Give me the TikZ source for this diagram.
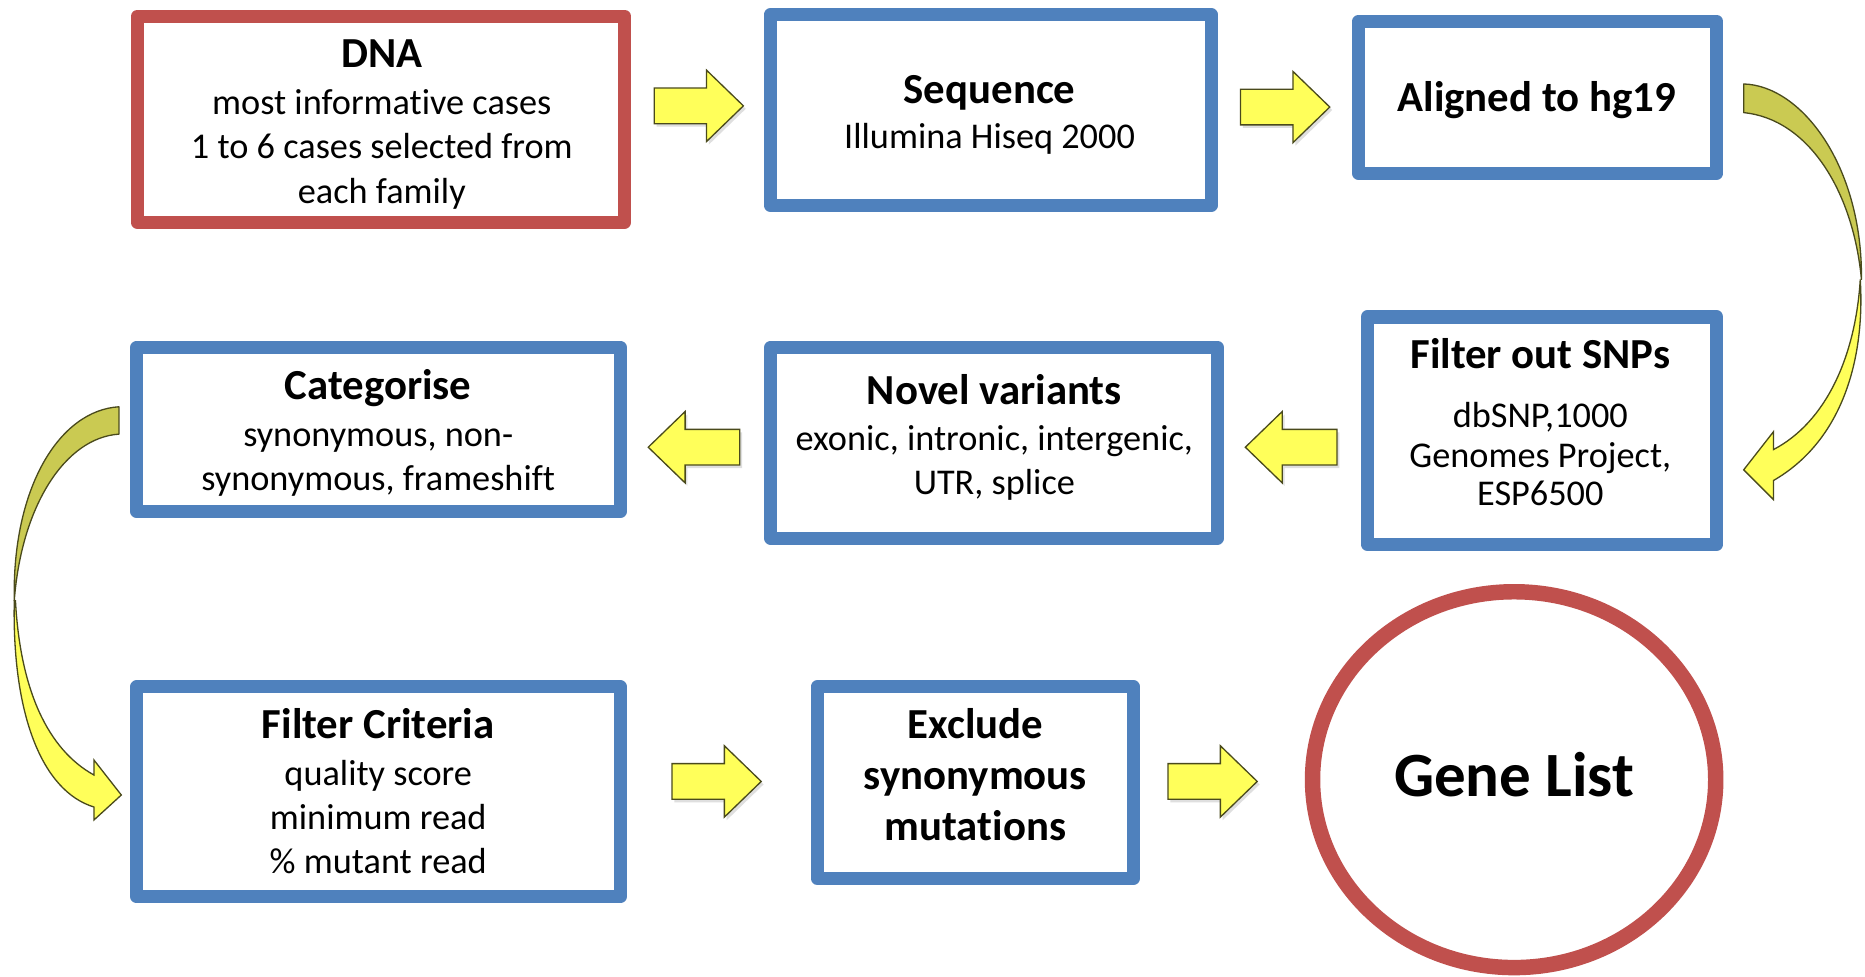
\documentclass[tikz,border=0pt]{standalone}
\usepackage{fontspec}
\setmainfont[Ligatures={NoCommon}]{Carlito}
\usetikzlibrary{shapes.geometric,shadows}
\definecolor{boxblue}{HTML}{4F81BD}
\definecolor{boxred}{HTML}{C0504D}
\definecolor{arryel}{HTML}{FFFF5A}
\definecolor{arrolive}{HTML}{CACA52}
\definecolor{arredge}{HTML}{4A4A1C}
\tikzset{
  bluebox/.style={draw=boxblue, line width=11pt, fill=white, line join=round, inner sep=0pt},
  redbox/.style={draw=boxred, line width=11pt, fill=white, line join=round, inner sep=0pt},
  body/.style={anchor=base, inner sep=0pt, font=\fontsize{30.5}{36}\selectfont},
  ttl/.style={anchor=base, inner sep=0pt, font=\bfseries\fontsize{36}{43}\selectfont},
  blockarrow/.style={fill=arryel, draw=arredge, line width=1.1pt, line join=miter,
    drop shadow={opacity=0.25, shadow xshift=2pt, shadow yshift=-2.5pt}},
  curvetop/.style={fill=arrolive, draw=arredge, line width=1.1pt, line join=round},
  curvebot/.style={fill=arryel, draw=arredge, line width=1.1pt, line join=miter},
  rarr/.pic={\path[blockarrow] (0,0) -- (-31,-30) -- (-31,-15) -- (-75,-15) -- (-75,15) -- (-31,15) -- (-31,30) -- cycle;},
  larr/.pic={\path[blockarrow] (0,0) -- (31,-30) -- (31,-15) -- (77,-15) -- (77,15) -- (31,15) -- (31,30) -- cycle;}
}
\begin{document}
\begin{tikzpicture}[x=1pt,y=-1pt]
\useasboundingbox[fill=white] (0,0) rectangle (1568,821);

% boxes
\node[redbox, minimum width=409.5pt, minimum height=173.5pt] (dna) at (320.25,100.25) {};
\node[bluebox, minimum width=371pt, minimum height=160pt] (seq) at (833,92.5) {};
\node[bluebox, minimum width=301.5pt, minimum height=127.4pt] (aln) at (1292.75,81.8) {};
\node[bluebox, minimum width=294pt, minimum height=191pt] (snp) at (1296.5,362) {};
\node[bluebox, minimum width=375.5pt, minimum height=160.5pt] (nov) at (835.75,372.25) {};
\node[bluebox, minimum width=406.5pt, minimum height=138pt] (cat) at (318.25,361) {};
\node[bluebox, minimum width=406.5pt, minimum height=176.5pt] (crit) at (318.25,665.75) {};
\node[bluebox, minimum width=266pt, minimum height=161pt] (exc) at (820,658) {};
\node[ellipse, draw=boxred, line width=13pt, fill=white, minimum width=339pt, minimum height=316pt, inner sep=0pt] (gene) at (1273,655.5) {};

% texts
\node[ttl] (dnaT) at (321,57) {DNA};
\node[body] (dna1) at (321,96) {most informative cases};
\node[body] (dna2) at (321,133) {1 to 6 cases selected from};
\node[body] (dna3) at (321,171) {each family};

\node[ttl] (seqT) at (832,87) {Sequence};
\node[body] (seq1) at (832,125) {Illumina Hiseq 2000};

\node[ttl] (alnT) at (1292,94) {Aligned to hg19};

\node[ttl] (snpT) at (1295,310) {Filter out SNPs};
\node[body] (snp1) at (1295,359) {dbSNP,1000};
\node[body] (snp2) at (1295,393) {Genomes Project,};
\node[body] (snp3) at (1295,425) {ESP6500};

\node[ttl] (novT) at (836,340) {Novel variants};
\node[body] (nov1) at (836,379) {exonic, intronic, intergenic,};
\node[body] (nov2) at (836,416) {UTR, splice};

\node[ttl] (catT) at (318,336) {Categorise};
\node[body] (cat1) at (318,375) {synonymous, non-};
\node[body] (cat2) at (318,412) {synonymous, frameshift};

\node[ttl] (critT) at (318,621) {Filter Criteria};
\node[body] (crit1) at (318,660) {quality score};
\node[body] (crit2) at (318,697) {minimum read};
\node[body] (crit3) at (318,734) {\% mutant read};

\node[ttl] (exc1) at (820,621) {Exclude};
\node[ttl] (exc2) at (820,664) {synonymous};
\node[ttl] (exc3) at (820,707) {mutations};

\node[anchor=base, inner sep=0pt, font=\bfseries\fontsize{53}{64}\selectfont] (geneT) at (1273,670) {Gene List};

% straight block arrows
\pic at (625,89) {rarr};
\pic at (1118,90) {rarr};
\pic at (1047,376) {larr};
\pic at (545,376) {larr};
\pic at (640,657) {rarr};
\pic at (1057,657) {rarr};

% curved arrow: Aligned -> Filter out SNPs
\path[curvetop] (1466,70.6) .. controls (1515,72) and (1566,140) .. (1565,235)
  .. controls (1558,160) and (1520,100) .. (1466,94.7) -- cycle;
\path[curvebot] (1564,235) .. controls (1568,300) and (1550,370) .. (1491,404)
  -- (1491,420) -- (1466,395) -- (1491,363) -- (1491,378)
  .. controls (1535,355) and (1560,300) .. (1564,235) -- cycle;

% curved arrow: Categorise -> Filter Criteria
\path[curvetop] (100,342) .. controls (50,345) and (10,410) .. (12,505)
  .. controls (18,425) and (55,368) .. (100,365) -- cycle;
\path[curvebot] (12,505) .. controls (10,600) and (35,665) .. (79,678.5)
  -- (79,689.4) -- (102,668.4) -- (79,639) -- (79,651.6)
  .. controls (40,630) and (17,580) .. (13,505) -- cycle;
\end{tikzpicture}
\end{document}
